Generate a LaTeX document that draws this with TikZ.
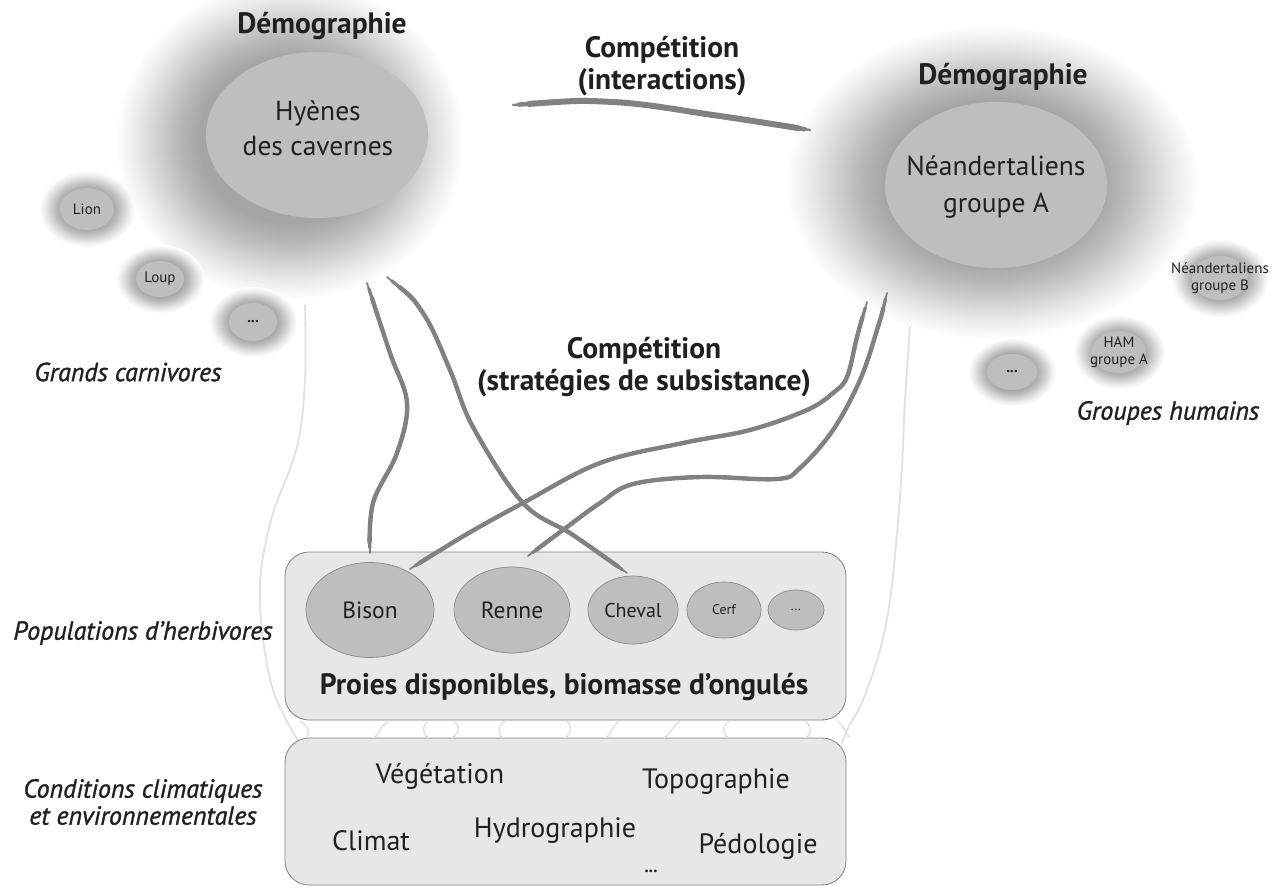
\documentclass[tikz,border=0pt]{standalone}
\usepackage{fontspec}
\setmainfont{PT Sans}
\newfontfamily\semiit{PT Sans}[FakeBold=1.2]
\usetikzlibrary{shapes.geometric}
\definecolor{glowc}{HTML}{A4A5A8}
\definecolor{glowa}{HTML}{B7B8BB}
\definecolor{glowm}{HTML}{D0D1D3}
\definecolor{glowl}{HTML}{EAEAEB}
\definecolor{innerc}{HTML}{BDBEC1}
\definecolor{boxc}{HTML}{E6E7E8}
\definecolor{boxedge}{HTML}{808285}
\definecolor{ellc}{HTML}{BCBEC0}
\definecolor{elledge}{HTML}{8A8B8E}
\definecolor{brushc}{HTML}{808184}
\definecolor{faint}{HTML}{E1E1E2}
\definecolor{ink}{HTML}{231F20}
\pgfdeclareradialshading{glowsh}{\pgfpoint{0bp}{0bp}}{color(0bp)=(glowc); color(13bp)=(glowc); color(16bp)=(glowa); color(19bp)=(glowm); color(22bp)=(glowl); color(25bp)=(white); color(50bp)=(white)}
\newcommand\brushpath[2][4.4]{%
  \draw[brushc, line width=0.4*#1pt, line cap=round, line join=round] #2;
  \draw[brushc, line width=0.75*#1pt, line cap=round, line join=round, shorten <=6pt, shorten >=6pt] #2;
  \draw[brushc, line width=#1pt, line cap=round, line join=round, shorten <=16pt, shorten >=14pt] #2;
}
\begin{document}
\begin{tikzpicture}[x=1pt,y=-1pt,
  glow/.style={ellipse, inner sep=0pt, outer sep=0pt, shading=glowsh},
  core/.style={ellipse, inner sep=0pt, fill=innerc},
  lbl/.style={inner sep=0pt, align=center, text=ink},
  big/.style={font=\fontsize{27.5}{35}\selectfont},
  bigb/.style={font=\bfseries\fontsize{29.5}{32}\selectfont},
  small/.style={font=\fontsize{15}{17}\selectfont},
  env/.style={font=\fontsize{28}{30}\selectfont},
  side/.style={font=\semiit\itshape\fontsize{26}{27}\selectfont},
  panel/.style={draw=boxedge, fill=boxc, rounded corners=24pt, line width=0.8pt, inner sep=0pt},
  prey/.style={ellipse, draw=elledge, fill=ellc, line width=0.7pt, inner sep=0pt, text=ink},
  faintline/.style={draw=faint, line width=1.8pt, line cap=round}
]
\useasboundingbox[fill=white] (0,0) rectangle (1280,887);

% big blobs
\node[glow, minimum width=350pt, minimum height=320pt] (hyglow) at (290,140) {};
\node[glow, minimum width=414pt, minimum height=315pt] (neglow) at (992,182) {};
\node[core, minimum width=222pt, minimum height=166pt] (hy) at (317,135) {};
\node[core, minimum width=222pt, minimum height=166pt] (ne) at (996,185) {};

% small blobs
\node[glow, minimum width=96pt, minimum height=76pt] (liong) at (87,209) {};
\node[core, minimum width=54pt, minimum height=42pt] (lion) at (87,209) {};
\node[glow, minimum width=88pt, minimum height=68pt] (loupg) at (160,279) {};
\node[core, minimum width=48pt, minimum height=36pt] (loup) at (160,279) {};
\node[glow, minimum width=88pt, minimum height=70pt] (dotlg) at (253,322) {};
\node[core, minimum width=48pt, minimum height=38pt] (dotl) at (253,322) {};
\node[glow, minimum width=98pt, minimum height=78pt] (nebg) at (1220,278) {};
\node[core, minimum width=56pt, minimum height=44pt] (neb) at (1220,278) {};
\node[glow, minimum width=92pt, minimum height=74pt] (hamg) at (1119,352) {};
\node[core, minimum width=54pt, minimum height=42pt] (ham) at (1119,352) {};
\node[glow, minimum width=88pt, minimum height=68pt] (dotrg) at (1012,372) {};
\node[core, minimum width=50pt, minimum height=36pt] (dotr) at (1012,372) {};

% faint contour lines
\coordinate (l0) at (305,305); \coordinate (l1) at (298,740);
\draw[faintline] plot[smooth, tension=0.6] coordinates {(l0) (305,380) (297,447) (273,513) (262,563) (260,600) (263,640) (273,690) (290,727) (l1)};
\coordinate (r0) at (910,327); \coordinate (r1) at (842,743);
\draw[faintline] plot[smooth, tension=0.6] coordinates {(r0) (905,400) (902,467) (897,533) (890,600) (880,650) (863,700) (847,730) (r1)};

% panels
\node[panel, minimum width=561pt, minimum height=168pt] (preybox) at (565.5,636) {};
\node[panel, minimum width=561pt, minimum height=147pt] (envbox) at (565.5,811.5) {};

% small arcs between panels
\foreach \xa/\xb/\xc in {300/310/306, 388/380/374, 428/422/428, 454/460/452, 505/498/502, 567/572/565, 619/612/606, 680/672/664, 729/722/728, 805/812/806, 837/845/850}{
  \draw[faint, line width=1.4pt] (\xa,721) .. controls (\xb,727) and (\xb,732) .. (\xc,738);
}

\path (370,610) coordinate (bisonc) (633,610) coordinate (chevalc);

% connectors (brush strokes)
\coordinate (t0) at (513,105); \coordinate (t1) at (810,130);
\brushpath[6]{plot[smooth, tension=0.6] coordinates {(t0) (613,102) (713,115) (t1)}}

\coordinate (a0) at (367,283); \coordinate (a1) at (370,553);
\brushpath{plot[smooth, tension=0.6] coordinates {(a0) (390,353) (407,403) (397,453) (373,503) (a1)}}

\coordinate (b0) at (387,277); \coordinate (b1) at (627,573);
\brushpath{plot[smooth, tension=0.6] coordinates {(b0) (423,313) (450,370) (473,427) (523,503) (573,535) (b1)}}

\coordinate (c0) at (867,302); \coordinate (c1) at (410,569);
\brushpath{plot[smooth, tension=0.6] coordinates {(c0) (857,337) (847,377) (833,393) (807,410) (750,430) (683,443) (600,463) (523,503) (467,534) (c1)}}

\coordinate (d0) at (887,293); \coordinate (d1) at (528,556);
\brushpath{plot[smooth, tension=0.6] coordinates {(d0) (877,330) (860,380) (833,430) (800,468) (777,479) (700,477) (633,484) (600,503) (567,527) (d1)}}

% prey ellipses
\node[prey, minimum width=128pt, minimum height=95pt, font=\fontsize{23.5}{26}\selectfont] (bison) at (bisonc) {Bison};
\node[prey, minimum width=116pt, minimum height=86pt, font=\fontsize{23.5}{26}\selectfont] (renne) at (512,610) {Renne};
\node[prey, minimum width=90pt, minimum height=68pt, font=\fontsize{20}{24}\selectfont] (cheval) at (chevalc) {Cheval};
\node[prey, minimum width=74pt, minimum height=56pt, font=\fontsize{14}{17}\selectfont] (cerf) at (724,610) {Cerf};
\node[prey, minimum width=56pt, minimum height=40pt, font=\fontsize{13}{16}\selectfont] (dotp) at (796,610) {...};

% texts
\node[lbl, bigb] (demoL) at (322,26) {Démographie};
\node[lbl, bigb] (demoR) at (1003,77) {Démographie};
\node[lbl, big] (hyt) at (318,128) {Hyènes\\des cavernes};
\node[lbl, font=\fontsize{27.5}{37}\selectfont] (net) at (996,187) {Néandertaliens\\groupe A};
\node[lbl, small] at (lion) {Lion};
\node[lbl, small] at (loup) {Loup};
\node[lbl, font=\bfseries\fontsize{15}{17}\selectfont] at (dotl) {...};
\node[lbl, small] at (neb) {Néandertaliens\\groupe B};
\node[lbl, small] at (ham) {HAM\\groupe A};
\node[lbl, font=\bfseries\fontsize{15}{17}\selectfont] at (dotr) {...};
\node[lbl, bigb] (comp1) at (662,66) {Compétition\\(interactions)};
\node[lbl, bigb] (comp2) at (644,367) {Compétition\\(stratégies de subsistance)};
\node[lbl, bigb] (proies) at (564,687) {Proies disponibles, biomasse d’ongulés};
\node[lbl, env] (veg) at (440,776) {Végétation};
\node[lbl, env] (topo) at (716,782) {Topographie};
\node[lbl, env] (clim) at (371,841) {Climat};
\node[lbl, env] (hydro) at (555,831) {Hydrographie};
\node[lbl, env] (pedo) at (758,846) {Pédologie};
\node[lbl, font=\bfseries\fontsize{17}{18}\selectfont] (dote) at (651,871) {...};
\node[lbl, side] (gc) at (128,372) {Grands carnivores};
\node[lbl, side] (gh) at (1168,413) {Groupes humains};
\node[lbl, side] (ph) at (143,633) {Populations d’herbivores};
\node[lbl, side] (cc) at (143,802) {Conditions climatiques\\et environnementales};
\end{tikzpicture}
\end{document}
